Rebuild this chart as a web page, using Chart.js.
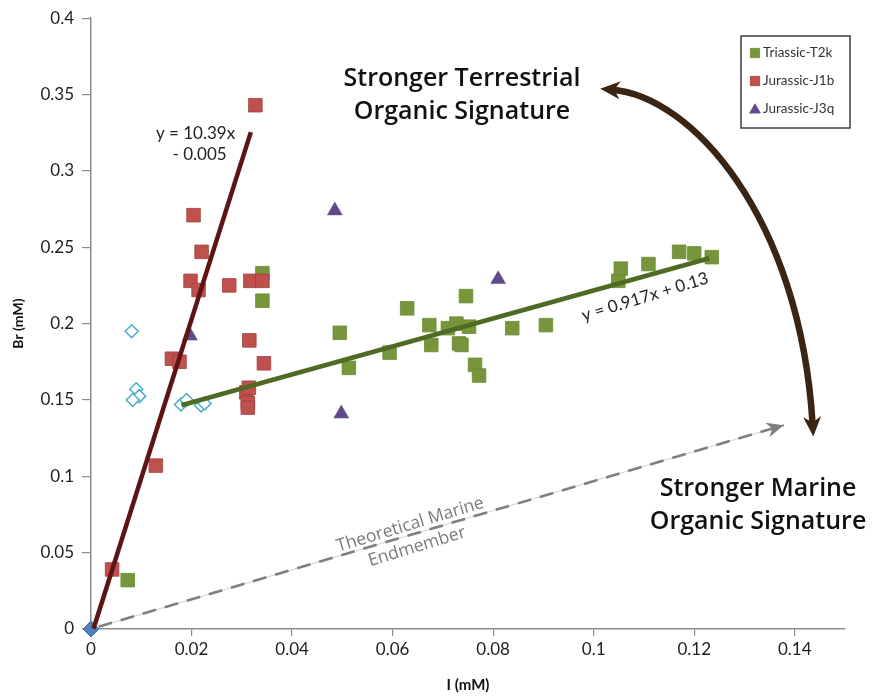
<!DOCTYPE html>
<html>
<head>
<meta charset="utf-8">
<title>Br vs I</title>
<script src="https://cdn.jsdelivr.net/npm/chart.js@4.4.1/dist/chart.umd.min.js"></script>
<style>
  html, body { margin: 0; padding: 0; background: #ffffff; }
  canvas { display: block; }
</style>
</head>
<body>
<canvas id="chart" width="876" height="696"></canvas>
<script>
// Triassic-T2k samples
const T2K_I  = [0.0073, 0.0341, 0.0341, 0.0495, 0.0513, 0.0594, 0.0629, 0.0673, 0.0677, 0.0710,
                0.0727, 0.0752, 0.0746, 0.0732, 0.0737, 0.0764, 0.0772, 0.0838, 0.0905, 0.1049,
                0.1054, 0.1109, 0.1170, 0.1200, 0.1235];
const T2K_BR = [0.032, 0.233, 0.215, 0.194, 0.171, 0.181, 0.210, 0.199, 0.186, 0.197,
                0.200, 0.198, 0.218, 0.187, 0.186, 0.173, 0.166, 0.197, 0.199, 0.228,
                0.236, 0.239, 0.247, 0.246, 0.2435];

// Jurassic-J1b samples
const J1B_I  = [0.0042, 0.0129, 0.0161, 0.0176, 0.0198, 0.0204, 0.0214, 0.0220, 0.0275, 0.0315,
                0.0317, 0.0327, 0.0341, 0.0344, 0.0309, 0.0314, 0.0312, 0.0312];
const J1B_BR = [0.039, 0.107, 0.177, 0.175, 0.228, 0.271, 0.222, 0.247, 0.225, 0.189,
                0.228, 0.343, 0.228, 0.174, 0.155, 0.158, 0.148, 0.145];

// Jurassic-J3q samples
const J3Q_I  = [0.0197, 0.0485, 0.0498, 0.0810];
const J3Q_BR = [0.192, 0.274, 0.141, 0.229];

// other samples (open diamonds, not in legend)
const OTHER_I  = [0.0081, 0.0090, 0.0096, 0.0083, 0.0179, 0.0190, 0.0219, 0.0226];
const OTHER_BR = [0.195, 0.157, 0.1525, 0.150, 0.147, 0.150, 0.1464, 0.1477];

// origin point
const ORIGIN_I  = [0];
const ORIGIN_BR = [0];

// linear fits: slope, intercept, x range
const J1B_FIT = [10.39, -0.005, 0.0005, 0.0318];
const T2K_FIT = [0.917, 0.13, 0.018, 0.123];

// theoretical marine endmember arrow (start, tip)
const MARINE_I  = [0.0015, 0.1378];
const MARINE_BR = [0.0015, 0.1335];

// curved arrow control points (I, Br)
const ARC_I  = [0.1013, 0.1192, 0.1411, 0.1437];
const ARC_BR = [0.3538, 0.3492, 0.2708, 0.1260];

const X_TICKS = [0, 0.02, 0.04, 0.06, 0.08, 0.1, 0.12, 0.14];
const Y_TICKS = [0, 0.05, 0.1, 0.15, 0.2, 0.25, 0.3, 0.35, 0.4];

const pts = (xs, ys) => xs.map((x, i) => ({ x: x, y: ys[i] }));
const fitLine = f => [{ x: f[2], y: f[0] * f[2] + f[1] }, { x: f[3], y: f[0] * f[3] + f[1] }];

const TEXT = '#222222';
const AXIS = '#8c8c8c';

function arrowHead(ctx, tipX, tipY, angle, len, half, color) {
  ctx.save();
  ctx.translate(tipX, tipY);
  ctx.rotate(angle);
  ctx.fillStyle = color;
  ctx.beginPath();
  ctx.moveTo(0, 0);
  ctx.lineTo(-len, -half);
  ctx.lineTo(-len * 0.7, 0);
  ctx.lineTo(-len, half);
  ctx.closePath();
  ctx.fill();
  ctx.restore();
}

const annotations = {
  id: 'annotations',
  afterDatasetsDraw(chart) {
    const { ctx, scales: { x, y } } = chart;
    const px = v => x.getPixelForValue(v);
    const py = v => y.getPixelForValue(v);

    // marine arrowhead
    const mx0 = px(MARINE_I[0]), my0 = py(MARINE_BR[0]);
    const mx1 = px(MARINE_I[1]), my1 = py(MARINE_BR[1]);
    arrowHead(ctx, mx1, my1, Math.atan2(my1 - my0, mx1 - mx0), 17, 7.5, '#7f7f7f');

    // curved arrow between the two signatures
    const p = ARC_I.map((v, i) => [px(v), py(ARC_BR[i])]);
    const t0 = Math.atan2(p[0][1] - p[1][1], p[0][0] - p[1][0]);
    const t1 = Math.atan2(p[3][1] - p[2][1], p[3][0] - p[2][0]);
    const back = 12;
    ctx.save();
    ctx.strokeStyle = '#3a2414';
    ctx.lineWidth = 6.5;
    ctx.lineCap = 'butt';
    ctx.beginPath();
    ctx.moveTo(p[0][0] - Math.cos(t0) * back, p[0][1] - Math.sin(t0) * back);
    ctx.bezierCurveTo(p[1][0], p[1][1], p[2][0], p[2][1],
                      p[3][0] - Math.cos(t1) * back, p[3][1] - Math.sin(t1) * back);
    ctx.stroke();
    ctx.restore();
    arrowHead(ctx, p[0][0], p[0][1], t0, 20, 9, '#3a2414');
    arrowHead(ctx, p[3][0], p[3][1], t1, 20, 9, '#3a2414');

    ctx.save();
    ctx.textAlign = 'center';
    ctx.textBaseline = 'middle';

    // signature captions
    ctx.fillStyle = '#111111';
    ctx.font = '600 25px "Open Sans"';
    ctx.fillText('Stronger Terrestrial', px(0.0738), py(0.360));
    ctx.fillText('Organic Signature', px(0.0738), py(0.3385));
    ctx.fillText('Stronger Marine', px(0.1327), py(0.0915));
    ctx.fillText('Organic Signature', px(0.1327), py(0.070));

    // fit equations
    ctx.fillStyle = TEXT;
    ctx.font = '17px Lato';
    ctx.fillText('y = 10.39x', px(0.0208), py(0.3244));
    ctx.fillText('- 0.005', px(0.0216), py(0.3107));

    ctx.save();
    ctx.translate(px(0.1102), py(0.2175));
    ctx.rotate(-17 * Math.PI / 180);
    ctx.fillText('y = 0.917x + 0.13', 0, 0);
    ctx.restore();

    // endmember label along the dashed line
    ctx.save();
    ctx.translate(px(0.0642), py(0.061));
    ctx.rotate(-16.9 * Math.PI / 180);
    ctx.fillStyle = '#7a7a7a';
    ctx.font = '17.5px "Open Sans"';
    ctx.fillText('Theoretical Marine', 0, -11.5);
    ctx.fillText('Endmember', 0, 11.5);
    ctx.restore();

    ctx.restore();
  }
};

// boxed legend in the top right corner
const boxLegend = {
  id: 'boxLegend',
  afterDraw(chart) {
    const { ctx } = chart;
    const items = chart.data.datasets.filter(d => d.inLegend);
    const left = 741, top = 36, w = 109, h = 92;
    ctx.save();
    ctx.strokeStyle = '#3c3c3c';
    ctx.lineWidth = 1.5;
    ctx.strokeRect(left, top, w, h);
    ctx.font = '13.5px Lato';
    ctx.textBaseline = 'middle';
    ctx.textAlign = 'left';
    items.forEach((d, i) => {
      const cy = top + 17 + i * 28;
      ctx.fillStyle = d.backgroundColor;
      ctx.strokeStyle = d.borderColor;
      ctx.lineWidth = 0.8;
      Chart.helpers.drawPoint(ctx, {
        pointStyle: d.pointStyle,
        radius: d.pointStyle === 'triangle' ? 6.2 : 6.6,
        rotation: 0,
        borderWidth: 0.8
      }, left + 14, cy + (d.pointStyle === 'triangle' ? 1 : 0));
      ctx.fillStyle = '#333333';
      ctx.fillText(d.label, left + 22, cy);
    });
    ctx.restore();
  }
};

new Chart(document.getElementById('chart'), {
  type: 'scatter',
  data: {
    datasets: [
      {
        label: 'J1b fit', data: fitLine(J1B_FIT), showLine: true,
        borderColor: '#5e1414', borderWidth: 4.5, pointRadius: 0, order: 0, clip: false
      },
      {
        label: 'T2k fit', data: fitLine(T2K_FIT), showLine: true,
        borderColor: '#4f6a22', borderWidth: 4.5, pointRadius: 0, order: 0, clip: false
      },
      {
        label: 'marine guide', data: pts(MARINE_I, MARINE_BR), showLine: true,
        borderColor: '#d0d0d0', borderWidth: 1, pointRadius: 0, order: 6, clip: false
      },
      {
        label: 'marine', data: pts(MARINE_I, MARINE_BR), showLine: true,
        borderColor: '#7f7f7f', borderWidth: 2.6, borderDash: [14, 9], pointRadius: 0, order: 5, clip: false
      },
      {
        label: 'Triassic-T2k', inLegend: true, data: pts(T2K_I, T2K_BR),
        pointStyle: 'rect', pointRadius: 9.6, backgroundColor: '#77963c', borderColor: '#6c8a34',
        borderWidth: 0.8, order: 3, clip: false
      },
      {
        label: 'Jurassic-J1b', inLegend: true, data: pts(J1B_I, J1B_BR),
        pointStyle: 'rect', pointRadius: 9.6, backgroundColor: '#c0504d', borderColor: '#9e3f3c',
        borderWidth: 0.8, order: 2, clip: false
      },
      {
        label: 'Jurassic-J3q', inLegend: true, data: pts(J3Q_I, J3Q_BR),
        pointStyle: 'triangle', pointRadius: 8.6, backgroundColor: '#5f4a8b', borderColor: '#5f4a8b',
        borderWidth: 0.5, order: 1, clip: false
      },
      {
        label: 'other', data: pts(OTHER_I, OTHER_BR),
        pointStyle: 'rectRot', pointRadius: 6.5, backgroundColor: '#ffffff', borderColor: '#4bacc6',
        borderWidth: 1.5, order: 4, clip: false
      },
      {
        label: 'origin', data: pts(ORIGIN_I, ORIGIN_BR),
        pointStyle: 'rectRot', pointRadius: 8, backgroundColor: '#4f81bd', borderColor: '#3f6ea8',
        borderWidth: 1, order: 1, clip: false
      }
    ]
  },
  options: {
    responsive: false,
    animation: false,
    devicePixelRatio: 1,
    layout: { padding: { left: 0, right: 31, top: 17, bottom: 0 } },
    plugins: {
      legend: { display: false },
      tooltip: { enabled: false }
    },
    scales: {
      x: {
        type: 'linear', min: 0, max: 0.15,
        afterBuildTicks: s => { s.ticks = X_TICKS.map(v => ({ value: v })); },
        afterFit: s => { s.height = 67; },
        ticks: { color: TEXT, font: { family: 'Lato', size: 17 }, padding: 3, callback: v => String(v) },
        grid: { drawOnChartArea: false, drawTicks: true, tickLength: 7, color: AXIS, lineWidth: 1.2 },
        border: { display: true, color: AXIS, width: 1.5 },
        title: { display: true, text: 'I (mM)', color: '#111111',
                 font: { family: 'Lato', size: 15, weight: 'bold' }, padding: { top: 0, bottom: 2 } }
      },
      y: {
        type: 'linear', min: 0, max: 0.4,
        afterBuildTicks: s => { s.ticks = Y_TICKS.map(v => ({ value: v })); },
        afterFit: s => { s.width = 91; },
        ticks: { color: TEXT, font: { family: 'Lato', size: 17 }, padding: 8, callback: v => String(v) },
        grid: { drawOnChartArea: false, drawTicks: true, tickLength: 9, color: AXIS, lineWidth: 1.2 },
        border: { display: true, color: AXIS, width: 1.5 },
        title: { display: true, text: 'Br (mM)', color: '#111111',
                 font: { family: 'Lato', size: 14, weight: 'bold' }, padding: { top: 10, bottom: 0 } }
      }
    }
  },
  plugins: [annotations, boxLegend]
});
</script>
</body>
</html>
